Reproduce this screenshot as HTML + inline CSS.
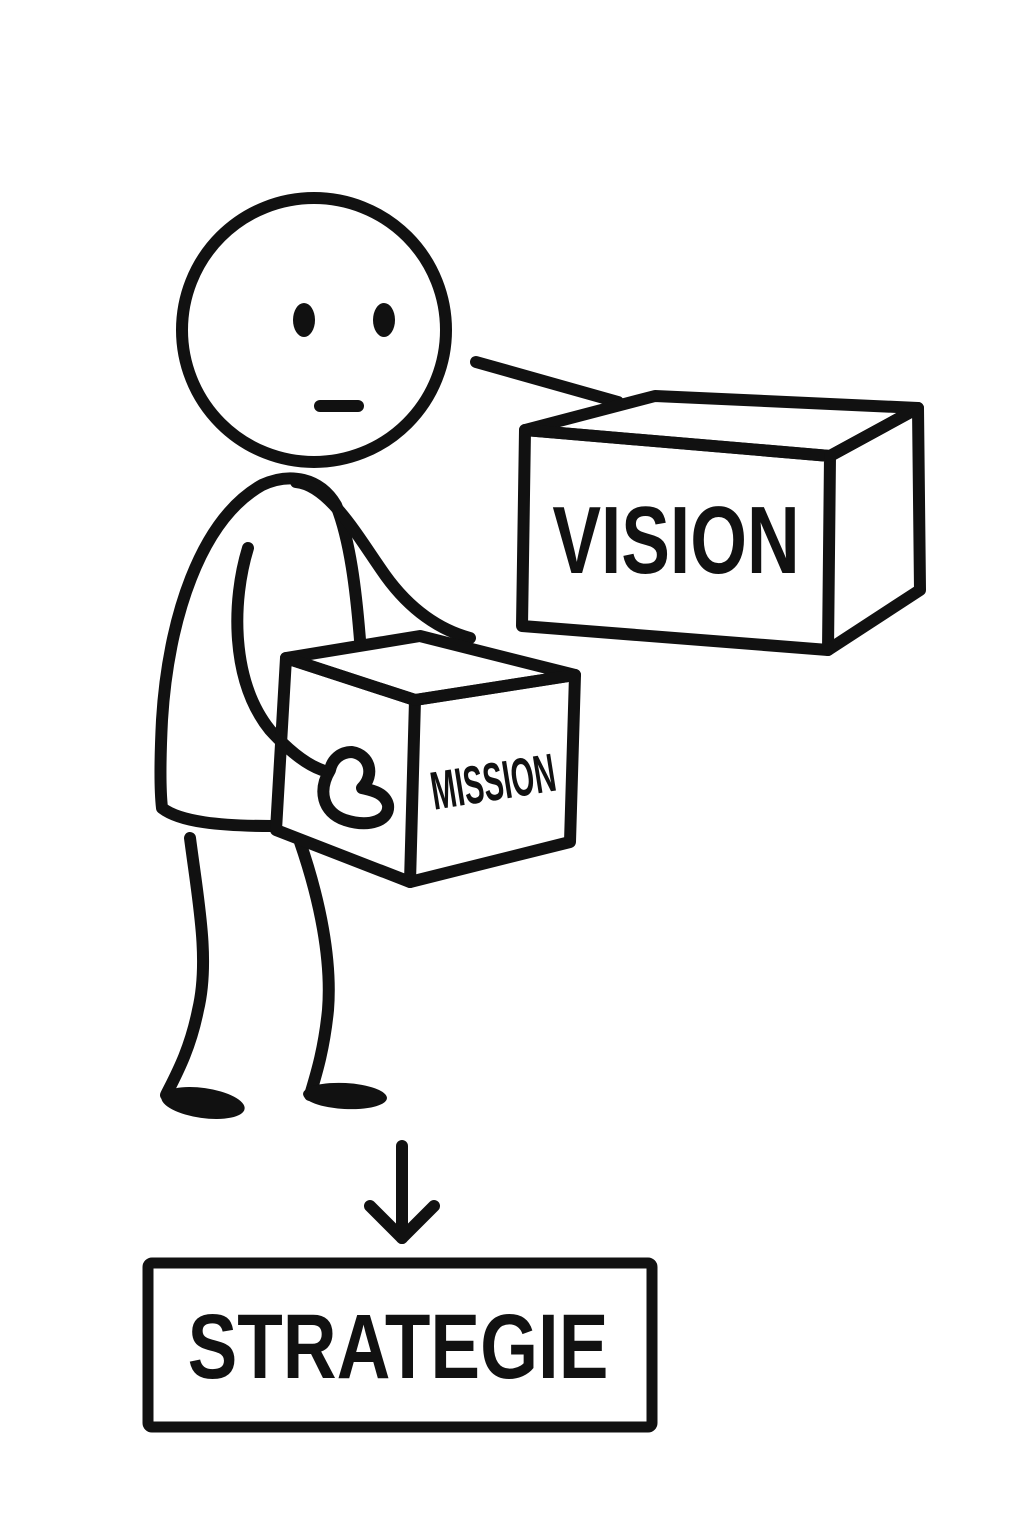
<!DOCTYPE html>
<html><head><meta charset="utf-8"><style>
html,body{margin:0;padding:0;background:#fff;}
svg{display:block;}
text{font-family:"Liberation Sans",sans-serif;font-weight:bold;fill:#111;}
</style></head><body>
<svg width="1024" height="1536" viewBox="0 0 1024 1536" xmlns="http://www.w3.org/2000/svg">
<g fill="none" stroke="#111" stroke-width="12" stroke-linecap="round" stroke-linejoin="round">
<circle cx="314" cy="330" r="132"/>
<line x1="320" y1="406" x2="358" y2="406"/>
<path d="M360 640 C356 590 350 540 336 505 C320 478 290 472 262 485 C200 520 168 620 162 720 C160 760 160 790 162 808 C180 822 220 826 272 826"/>
<path d="M296 482 C330 485 360 540 385 575 C410 610 440 630 470 638"/>
<path d="M248 548 C232 600 230 680 270 730 C290 752 308 765 322 770"/>
<path d="M330 770 C318 790 322 812 345 820 C370 828 390 820 388 805 C385 792 370 790 362 788 C375 775 370 755 352 752 C340 752 332 760 330 770 Z"/>
<path d="M190 838 C198 900 210 960 198 1010 C190 1050 176 1075 166 1095"/>
<path d="M300 842 C320 900 332 960 328 1010 C324 1050 316 1075 310 1095"/>
<path d="M286 658 L420 636 L575 675 L415 700 Z"/>
<path d="M286 658 L415 700 L410 882 L276 830 Z"/>
<path d="M415 700 L575 675 L570 842 L410 882"/>
<line x1="476" y1="362" x2="618" y2="402"/>
<path d="M525 430 L655 396 L918 408 L830 456 Z"/>
<path d="M525 430 L830 456 L828 650 L522 626 Z"/>
<path d="M830 456 L918 408 L920 590 L828 650"/>
<line x1="402" y1="1146" x2="402" y2="1238"/>
<polyline points="370,1206 402,1238 434,1206"/>
<rect x="148" y="1263" width="504" height="164" rx="4" stroke-width="11"/>
</g>
<ellipse cx="304" cy="320" rx="11" ry="17" fill="#111"/>
<ellipse cx="384" cy="320" rx="11" ry="17" fill="#111"/>
<ellipse cx="203" cy="1103" rx="42" ry="15" fill="#111" transform="rotate(8 203 1103)"/>
<ellipse cx="345" cy="1096" rx="42" ry="13" fill="#111" transform="rotate(3 345 1096)"/>
<text x="676" y="573" font-size="96" text-anchor="middle" transform="translate(676 0) scale(0.76 1) translate(-676 0)">VISION</text>
<text x="0" y="0" font-size="54" text-anchor="middle" transform="translate(496 800) rotate(-9) scale(0.55 1)">MISSION</text>
<text x="398" y="1378" font-size="92" text-anchor="middle" transform="translate(398 0) scale(0.81 1) translate(-398 0)">STRATEGIE</text>
</svg>
</body></html>
